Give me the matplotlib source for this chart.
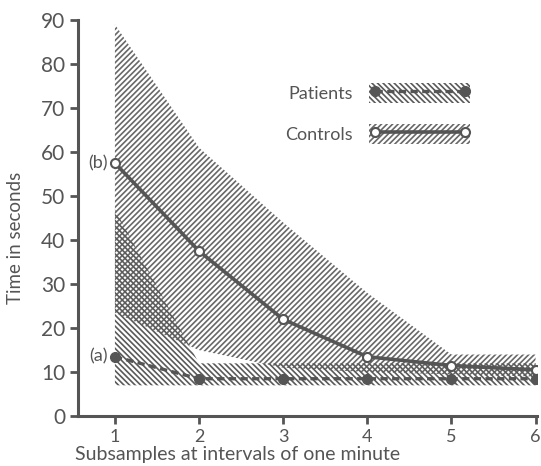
import matplotlib.pyplot as plt
from matplotlib.patches import Patch
from matplotlib.lines import Line2D
from matplotlib.legend_handler import HandlerTuple

# Reaction times
minutes = [1, 2, 3, 4, 5, 6]
controls_mean = [57.5, 37.5, 22, 13.5, 11.5, 10.5]
controls_upper = [89, 61, 44, 28, 14, 14]
controls_lower = [23.5, 15, 11, 10, 9.5, 9]
patients_mean = [13.5, 8.5, 8.5, 8.5, 8.5, 8.5]
patients_upper = [47, 12, 12, 12, 12, 12]
patients_lower = [7, 7, 7, 7, 7, 7]
yticks = [0, 10, 20, 30, 40, 50, 60, 70, 80, 90]

ink = "#555555"
con_hatch = "//////"
pat_hatch = "\\" * 6
plt.rcParams["font.family"] = ["Lato", "DejaVu Sans"]
plt.rcParams["hatch.linewidth"] = 1.2

fig = plt.figure(figsize=(5.41, 4.66), dpi=100)
ax = fig.add_axes([0.144, 0.107, 0.849, 0.85])

ax.fill_between(minutes, controls_lower, controls_upper, facecolor="none",
                edgecolor="#686868", linewidth=0, hatch=con_hatch)
ax.fill_between(minutes, patients_lower, patients_upper, facecolor="none",
                edgecolor="#5a5a5a", linewidth=0, hatch=pat_hatch)

ax.plot(minutes, controls_mean, color=ink, lw=2.6, marker="o", ms=6.5,
        mfc="white", mec=ink, mew=1.5, zorder=3)
ax.plot(minutes, patients_mean, color=ink, lw=2.4, ls=(0, (2.2, 1.3)),
        marker="o", ms=7, mfc=ink, mec=ink, zorder=3)

ax.annotate("(b)", (minutes[0], controls_mean[0]), xytext=(-5, 0),
            textcoords="offset points", ha="right", va="center",
            fontsize=13, color=ink)
ax.annotate("(a)", (minutes[0], patients_mean[0]), xytext=(-5, 0),
            textcoords="offset points", ha="right", va="center",
            fontsize=13, color=ink)

pat_handle = (Patch(facecolor="none", edgecolor="#5a5a5a", lw=0, hatch=pat_hatch),
              Line2D([], [], color=ink, lw=2.4, ls=(0, (2.2, 1.3)), marker="o",
                     ms=7, mfc=ink, mec=ink))
con_handle = (Patch(facecolor="none", edgecolor="#686868", lw=0, hatch=con_hatch),
              Line2D([], [], color=ink, lw=2.6, marker="o", ms=6.5,
                     mfc="white", mec=ink, mew=1.5))
leg = ax.legend([pat_handle, con_handle], ["Patients", "Controls"],
                handler_map={tuple: HandlerTuple(ndivide=1, pad=0)},
                loc="upper left", bbox_to_anchor=(0.432, 0.865), frameon=False,
                markerfirst=False, fontsize=13, handlelength=5.6,
                handleheight=1.35, handletextpad=0.9, labelspacing=1.15,
                borderpad=0, numpoints=2)
for t in leg.get_texts():
    t.set_color(ink)

ax.set_xlim(0.56, 6.02)
ax.set_ylim(0, 90)
ax.set_xticks(minutes)
ax.set_yticks(yticks)
ax.tick_params(axis="both", direction="out", length=6, width=2, color=ink,
               labelcolor=ink)
ax.tick_params(axis="y", labelsize=15, pad=3)
ax.tick_params(axis="x", labelsize=13, pad=3)
for side in ["top", "right"]:
    ax.spines[side].set_visible(False)
for side in ["left", "bottom"]:
    ax.spines[side].set_color(ink)
    ax.spines[side].set_linewidth(2.2)

ax.set_ylabel("Time in seconds", fontsize=13.5, color=ink)
ax.yaxis.set_label_coords(-0.118, 0.45)
fig.text(0.139, 0.012, "Subsamples at intervals of one minute", fontsize=14,
         color=ink, ha="left", va="baseline")

fig.savefig("out.png", dpi=100)
